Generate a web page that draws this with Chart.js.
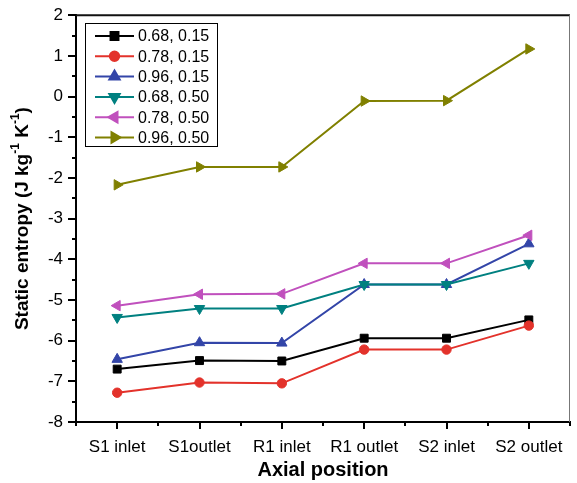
<!DOCTYPE html>
<html>
<head>
<meta charset="utf-8">
<script src="https://cdn.jsdelivr.net/npm/chart.js@4/dist/chart.umd.min.js"></script>
<style>
  html, body { margin: 0; padding: 0; background: #fff; }
  #wrap { width: 577px; height: 483px; position: relative; }
</style>
</head>
<body>
<div id="wrap"><canvas id="entropyChart"></canvas></div>
<script>
// axial stations along the machine
const positions = ["S1 inlet", "S1outlet", "R1 inlet", "R1 outlet", "S2 inlet", "S2 outlet"];

// static entropy, J kg-1 K-1 (legend: mass flow, pressure ratio pair)
const s068_015 = [-6.70, -6.49, -6.50, -5.94, -5.94, -5.49];
const s078_015 = [-7.28, -7.03, -7.05, -6.22, -6.22, -5.63];
const s096_015 = [-6.46, -6.05, -6.06, -4.62, -4.62, -3.62];
const s068_050 = [-5.43, -5.21, -5.21, -4.62, -4.62, -4.10];
const s078_050 = [-5.14, -4.86, -4.85, -4.10, -4.10, -3.41];
const s096_050 = [-2.17, -1.73, -1.73, -0.11, -0.10, 1.17];

const seriesNames = ["0.68, 0.15", "0.78, 0.15", "0.96, 0.15", "0.68, 0.50", "0.78, 0.50", "0.96, 0.50"];
const yMin = -8, yMax = 2;

const FONT = "'Liberation Sans', Arial, sans-serif";

function line(label, data, color, style, rotation, radius) {
  return {
    label, data,
    borderColor: color,
    backgroundColor: color,
    borderWidth: 2,
    tension: 0,
    pointStyle: style,
    pointRotation: rotation,
    pointRadius: radius,
    pointHoverRadius: radius,
    pointBackgroundColor: color,
    pointBorderColor: color,
    pointBorderWidth: 1
  };
}

const datasets = [
  line(seriesNames[5], s096_050, "#808000", "triangle", 90, 6),
  line(seriesNames[4], s078_050, "#c050bd", "triangle", -90, 6),
  line(seriesNames[3], s068_050, "#008080", "triangle", 180, 6),
  line(seriesNames[2], s096_015, "#3345a8", "triangle", 0, 6),
  line(seriesNames[1], s078_015, "#e3322b", "circle", 0, 4.7),
  line(seriesNames[0], s068_015, "#000000", "rect", 0, 5.6)
];

// frame, minor ticks, legend box and the y title with superscripts
const decorations = {
  id: "decorations",
  afterDraw(chart) {
    const ctx = chart.ctx;
    const { left, right, top, bottom } = chart.chartArea;
    const x = chart.scales.x, y = chart.scales.y;
    ctx.save();

    // top and right border
    ctx.strokeStyle = "#111";
    ctx.lineWidth = 2;
    ctx.beginPath();
    ctx.moveTo(left, top);
    ctx.lineTo(right, top);
    ctx.stroke();
    ctx.strokeStyle = "#777";
    ctx.lineWidth = 1;
    ctx.beginPath();
    ctx.moveTo(right - 0.5, top);
    ctx.lineTo(right - 0.5, bottom);
    ctx.stroke();

    // minor ticks
    ctx.strokeStyle = "#000";
    ctx.lineWidth = 2;
    ctx.beginPath();
    for (let v = yMin + 0.5; v < yMax; v += 1) {
      const py = Math.round(y.getPixelForValue(v));
      ctx.moveTo(left, py);
      ctx.lineTo(left - 4, py);
    }
    for (let i = 0; i <= positions.length; i++) {
      const px = Math.round(x.getPixelForValue(i - 0.5));
      ctx.moveTo(px, bottom);
      ctx.lineTo(px, bottom + 4);
    }
    ctx.stroke();

    // legend
    const bx = 85.5, by = 23.5, bw = 132, bh = 123;
    ctx.fillStyle = "#fff";
    ctx.fillRect(bx, by, bw, bh);
    ctx.strokeStyle = "#000";
    ctx.lineWidth = 1;
    ctx.strokeRect(bx, by, bw, bh);
    ctx.font = "16px " + FONT;
    ctx.textBaseline = "middle";
    ctx.textAlign = "left";
    seriesNames.forEach((name, i) => {
      const ds = chart.data.datasets.find(d => d.label === name);
      const ry = 36 + i * 20.3;
      ctx.strokeStyle = ds.borderColor;
      ctx.lineWidth = 2;
      ctx.beginPath();
      ctx.moveTo(95, ry);
      ctx.lineTo(134, ry);
      ctx.stroke();
      ctx.fillStyle = ds.borderColor;
      Chart.helpers.drawPoint(ctx, {
        pointStyle: ds.pointStyle,
        rotation: ds.pointRotation,
        radius: ds.pointRadius,
        borderWidth: 1
      }, 114.5, ry);
      ctx.fillStyle = "#000";
      ctx.fillText(name, 138, ry + 1);
    });

    // y axis title
    const parts = [
      ["Static entropy (J kg", false],
      ["-1", true],
      [" K", false],
      ["-1", true],
      [")", false]
    ];
    const big = "bold 19px " + FONT, small = "bold 12px " + FONT;
    let total = 0;
    parts.forEach(([t, sup]) => { ctx.font = sup ? small : big; total += ctx.measureText(t).width; });
    ctx.translate(23, (top + bottom) / 2);
    ctx.rotate(-Math.PI / 2);
    ctx.fillStyle = "#000";
    ctx.textBaseline = "middle";
    let cx = -total / 2;
    parts.forEach(([t, sup]) => {
      ctx.font = sup ? small : big;
      ctx.fillText(t, cx, sup ? -7 : 0);
      cx += ctx.measureText(t).width;
    });
    ctx.restore();
  }
};

new Chart(document.getElementById("entropyChart"), {
  type: "line",
  data: { labels: positions, datasets },
  options: {
    responsive: true,
    maintainAspectRatio: false,
    animation: false,
    layout: { padding: { top: 15, right: 1, left: 0, bottom: 0 } },
    plugins: {
      legend: { display: false },
      tooltip: { enabled: false }
    },
    scales: {
      x: {
        type: "category",
        offset: true,
        grid: { display: true, offset: false, drawOnChartArea: false, drawTicks: true, tickLength: 7, color: "#000", lineWidth: 2 },
        border: { display: true, color: "#000", width: 2 },
        ticks: { color: "#000", font: { family: FONT, size: 17 }, padding: 8, maxRotation: 0, autoSkip: false },
        title: {
          display: true, text: "Axial position", color: "#000",
          font: { family: FONT, size: 20, weight: "bold" },
          padding: { top: 0, bottom: 1 }
        },
        afterFit(scale) { scale.height = 61; }
      },
      y: {
        min: yMin, max: yMax,
        grid: { display: true, drawOnChartArea: false, drawTicks: true, tickLength: 8, color: "#000", lineWidth: 2 },
        border: { display: true, color: "#000", width: 2 },
        ticks: { stepSize: 1, color: "#000", font: { family: FONT, size: 17 }, padding: 5 },
        afterFit(scale) { scale.width = 76; }
      }
    }
  },
  plugins: [decorations]
});
</script>
</body>
</html>
